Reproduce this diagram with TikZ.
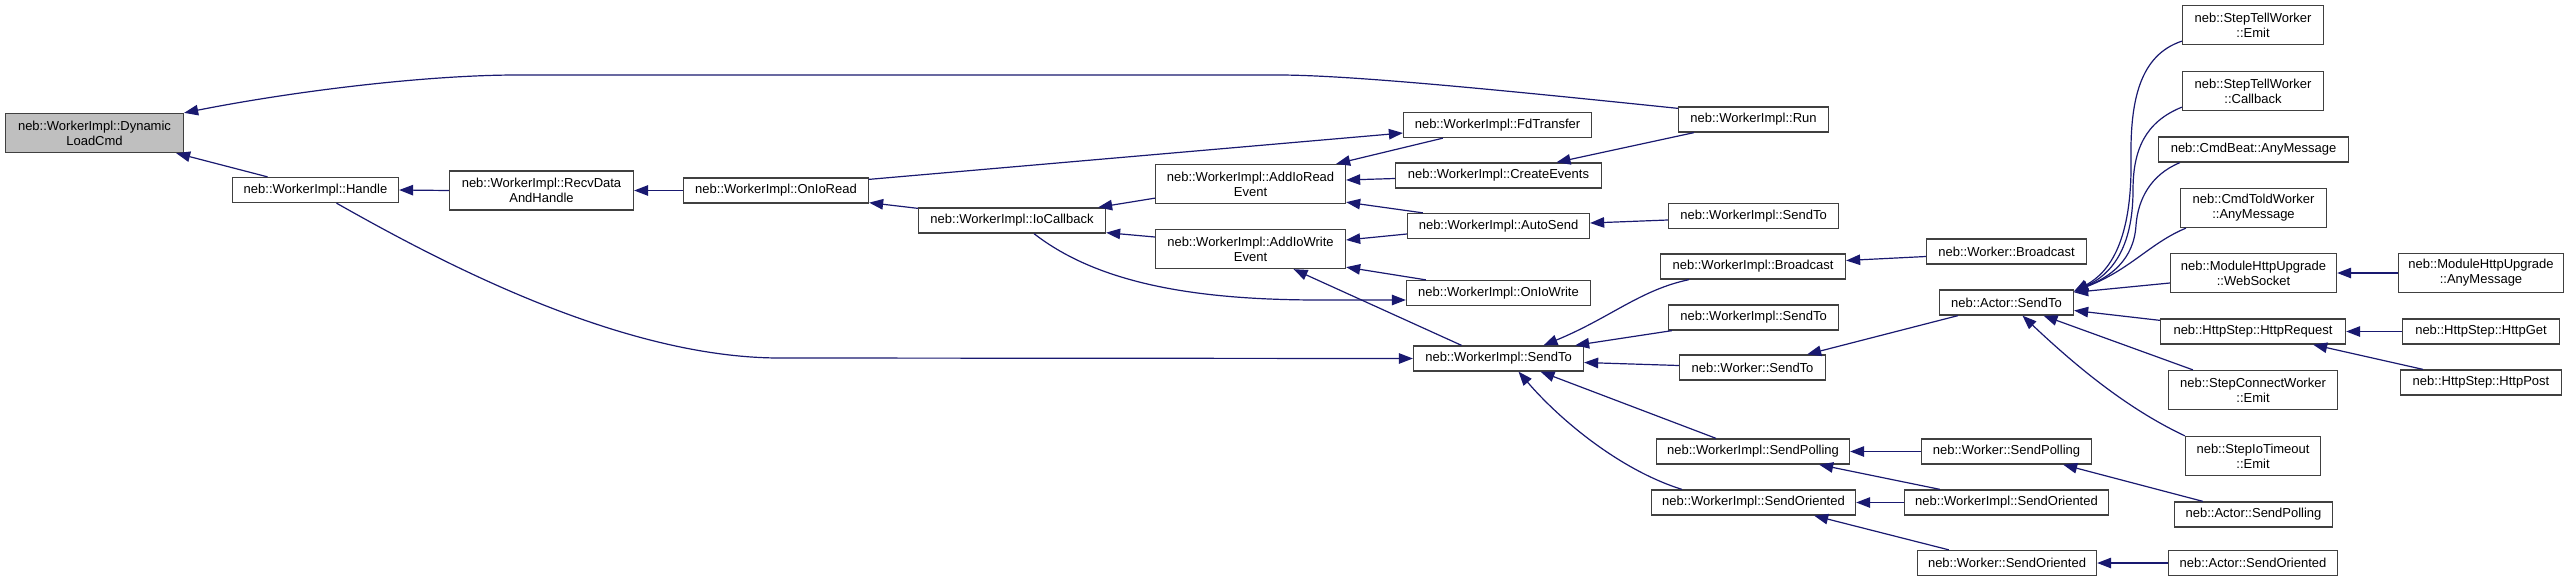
\documentclass[tikz,border=0pt]{standalone}
\usepackage{fontspec}
\setmainfont{Liberation Sans}
\usepackage{xcolor}
\definecolor{edgeblue}{RGB}{25, 25, 112}
\definecolor{boxline}{RGB}{64, 64, 64}
\definecolor{mainfill}{RGB}{191, 191, 191}
\usepackage{tikz}
\usetikzlibrary{arrows.meta}

\begin{document}
\begin{tikzpicture}[
  x=1pt, y=-1pt,
  box/.style={draw=boxline, fill=white, line width=1.3pt, inner sep=0pt, align=center, minimum height=25pt, font=\fontsize{13}{15}\selectfont},
  twoline/.style={minimum height=39pt},
  focus/.style={fill=mainfill},
  arrow/.style={-{Triangle[length=14pt, width=10.5pt]}, line width=1.2pt, color=edgeblue}
]
\useasboundingbox[fill=white] (0,0) rectangle (2571,584);

% callee chain, left to right
\node[box, twoline, focus, minimum width=178] (dlc) at (94.5,133) {neb::WorkerImpl::Dynamic\\LoadCmd};
\node[box, minimum width=166] (handle) at (315.5,190) {neb::WorkerImpl::Handle};
\node[box, twoline, minimum width=184] (recv) at (541.5,190.5) {neb::WorkerImpl::RecvData\\AndHandle};
\node[box, minimum width=185] (onioread) at (776,190.5) {neb::WorkerImpl::OnIoRead};
\node[box, minimum width=187] (iocallback) at (1012,220.5) {neb::WorkerImpl::IoCallback};
\node[box, twoline, minimum width=190] (addread) at (1250.5,184) {neb::WorkerImpl::AddIoRead\\Event};
\node[box, twoline, minimum width=190] (addwrite) at (1250.5,249) {neb::WorkerImpl::AddIoWrite\\Event};

\node[box, minimum width=188] (fdtransfer) at (1497.5,125) {neb::WorkerImpl::FdTransfer};
\node[box, minimum width=206] (createevents) at (1498.5,175.5) {neb::WorkerImpl::CreateEvents};
\node[box, minimum width=182] (autosend) at (1498.5,226) {neb::WorkerImpl::AutoSend};
\node[box, minimum width=184] (oniowrite) at (1498.5,293) {neb::WorkerImpl::OnIoWrite};
\node[box, minimum width=170] (sendto) at (1498.5,358.5) {neb::WorkerImpl::SendTo};

\node[box, minimum width=150] (run) at (1753.5,119.5) {neb::WorkerImpl::Run};
\node[box, minimum width=170] (sendtoa) at (1753.5,216) {neb::WorkerImpl::SendTo};
\node[box, minimum width=185] (broadcast) at (1753,266.5) {neb::WorkerImpl::Broadcast};
\node[box, minimum width=170] (sendtob) at (1753.5,317.5) {neb::WorkerImpl::SendTo};
\node[box, minimum width=146] (wsendto) at (1752.5,367.5) {neb::Worker::SendTo};
\node[box, minimum width=193] (sendpolling) at (1753,451.5) {neb::WorkerImpl::SendPolling};
\node[box, minimum width=204] (sendoriented) at (1753.5,502.5) {neb::WorkerImpl::SendOriented};

\node[box, minimum width=160] (wbroadcast) at (2006.5,251.5) {neb::Worker::Broadcast};
\node[box, minimum width=134] (asendto) at (2006.5,302.5) {neb::Actor::SendTo};
\node[box, minimum width=170] (wsendpolling) at (2006.5,451.5) {neb::Worker::SendPolling};
\node[box, minimum width=204] (sendoriented2) at (2006.5,502.5) {neb::WorkerImpl::SendOriented};
\node[box, minimum width=179] (wsendoriented) at (2007,563) {neb::Worker::SendOriented};

\node[box, twoline, minimum width=141] (tellemit) at (2253,25) {neb::StepTellWorker\\::Emit};
\node[box, twoline, minimum width=141] (tellcallback) at (2253,91) {neb::StepTellWorker\\::Callback};
\node[box, minimum width=190] (cmdbeat) at (2253.5,149.5) {neb::CmdBeat::AnyMessage};
\node[box, twoline, minimum width=146] (cmdtold) at (2253.5,208) {neb::CmdToldWorker\\::AnyMessage};
\node[box, twoline, minimum width=166] (websocket) at (2253.5,273) {neb::ModuleHttpUpgrade\\::WebSocket};
\node[box, minimum width=185] (httprequest) at (2253,331.5) {neb::HttpStep::HttpRequest};
\node[box, twoline, minimum width=169] (connectemit) at (2253,390) {neb::StepConnectWorker\\::Emit};
\node[box, twoline, minimum width=135] (iotimeout) at (2253,456) {neb::StepIoTimeout\\::Emit};
\node[box, minimum width=158] (asendpolling) at (2253.5,514.5) {neb::Actor::SendPolling};
\node[box, minimum width=169] (asendoriented) at (2253,563) {neb::Actor::SendOriented};

\node[box, twoline, minimum width=165] (upgrademsg) at (2481,273) {neb::ModuleHttpUpgrade\\::AnyMessage};
\node[box, minimum width=157] (httpget) at (2481,331.5) {neb::HttpStep::HttpGet};
\node[box, minimum width=161] (httppost) at (2481,382.5) {neb::HttpStep::HttpPost};

% calls, caller to callee
\draw[arrow] ([yshift=-2pt]run.north west) .. controls (1500,90) and (1350,75) .. (1278,75) -- (517,75) .. controls (430,75) and (300,90) .. (dlc.north east);
\draw[arrow] ([xshift=-48pt]handle.north) -- ([xshift=-8pt]dlc.south east);
\draw[arrow] (recv.west) -- (handle.east);
\draw[arrow] (onioread.west) -- (recv.east);
\draw[arrow] ([yshift=-1pt]iocallback.north west) -- ([yshift=1pt]onioread.south east);
\draw[arrow] ([yshift=-2pt]onioread.north east) -- ([yshift=-8pt]fdtransfer.west);
\draw[arrow] ([yshift=6pt]addread.south west) -- ([xshift=-8pt]iocallback.north east);
\draw[arrow] ([yshift=12pt]addwrite.west) -- ([yshift=1pt]iocallback.south east);
\draw[arrow] ([xshift=22pt]iocallback.south) .. controls (1100,285) and (1200,300) .. (1320,300) -- ([yshift=-7pt]oniowrite.west);
\draw[arrow] ([xshift=40pt]fdtransfer.south west) -- ([xshift=-10pt]addread.north east);
\draw[arrow] ([yshift=-3pt]createevents.west) -- ([yshift=4pt]addread.east);
\draw[arrow] ([xshift=16pt]autosend.north west) -- ([yshift=2pt]addread.south east);
\draw[arrow] ([yshift=-8pt]autosend.west) -- ([yshift=9pt]addwrite.east);
\draw[arrow] ([xshift=20pt]oniowrite.north west) -- ([yshift=2pt]addwrite.south east);
\draw[arrow] ([xshift=-37pt]sendto.north) -- ([xshift=43pt]addwrite.south);
\draw[arrow] ([xshift=21pt]handle.south) .. controls (437,260) and (620,358) .. (780,358) -- (sendto.west);
\draw[arrow] ([xshift=16pt]run.south west) -- ([xshift=58pt]createevents.north);
\draw[arrow] ([yshift=-4pt]sendtoa.west) -- ([yshift=3pt]autosend.east);
\draw[arrow] ([xshift=29pt]broadcast.south west) .. controls (1640,290) and (1610,318) .. ([xshift=45pt]sendto.north);
\draw[arrow] ([xshift=4pt]sendtob.south west) -- ([xshift=-9pt]sendto.north east);
\draw[arrow] ([yshift=2pt]wsendto.west) -- ([yshift=-4pt]sendto.east);
\draw[arrow] ([xshift=-37pt]sendpolling.north) -- ([xshift=42pt]sendto.south);
\draw[arrow] ([xshift=31pt]sendoriented.north west) .. controls (1620,470) and (1560,420) .. ([xshift=20pt]sendto.south);
\draw[arrow] ([yshift=-5pt]wbroadcast.west) -- ([yshift=6pt]broadcast.east);
\draw[arrow] ([xshift=19pt]asendto.south west) -- ([xshift=-19pt]wsendto.north east);
\draw[arrow] (wsendpolling.west) -- (sendpolling.east);
\draw[arrow] ([xshift=36pt]sendoriented2.north west) -- ([xshift=-31pt]sendpolling.south east);
\draw[arrow] (sendoriented2.west) -- (sendoriented.east);
\draw[arrow] ([xshift=32pt]wsendoriented.north west) -- ([xshift=-42pt]sendoriented.south east);
\draw[arrow] ([xshift=29pt]asendpolling.north west) -- ([xshift=-29pt]wsendpolling.south east);
\draw[arrow] (asendoriented.west) -- (wsendoriented.east);

% callers of neb::Actor::SendTo
\draw[arrow] ([yshift=4pt]tellemit.south west) .. controls (2140,55) and (2130,100) .. (2131,160) .. controls (2132,240) and (2110,272) .. ([yshift=-2pt]asendto.north east);
\draw[arrow] ([yshift=4pt]tellcallback.south west) .. controls (2145,122) and (2133,150) .. (2133,190) .. controls (2133,250) and (2110,275) .. ([yshift=-2pt]asendto.north east);
\draw[arrow] ([xshift=22pt]cmdbeat.south west) .. controls (2150,175) and (2138,200) .. (2136,225) .. controls (2134,260) and (2110,277) .. ([yshift=-2pt]asendto.north east);
\draw[arrow] ([xshift=6pt]cmdtold.south west) .. controls (2150,243) and (2130,270) .. ([yshift=-2pt]asendto.north east);
\draw[arrow] ([yshift=-10pt]websocket.west) -- ([yshift=-3pt]asendto.north east);
\draw[arrow] ([yshift=-2pt]httprequest.north west) -- ([yshift=-8pt]asendto.east);
\draw[arrow] ([xshift=25pt]connectemit.north west) -- ([xshift=37pt]asendto.south);
\draw[arrow] (iotimeout.north west) .. controls (2130,410) and (2080,370) .. ([xshift=16pt]asendto.south);
\draw[arrow] (upgrademsg.west) -- (websocket.east);
\draw[arrow] (httpget.west) -- (httprequest.east);
\draw[arrow] ([xshift=23pt]httppost.north west) -- ([xshift=-33pt]httprequest.south east);
\end{tikzpicture}
\end{document}
